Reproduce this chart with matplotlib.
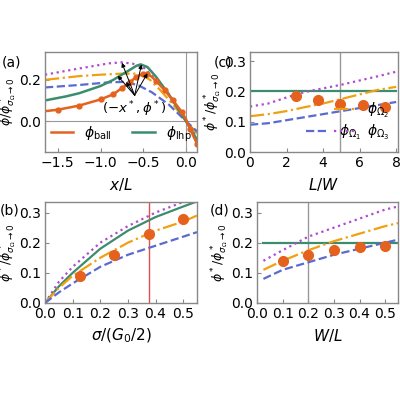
import matplotlib
matplotlib.use('Agg')
import matplotlib.pyplot as plt

plt.rcParams['font.family'] = ['DejaVu Sans']
plt.rcParams['font.size'] = 10
plt.rcParams['mathtext.fontset'] = 'dejavusans'

C_BALL = '#e5621e'
C_LHP = '#3c8c6e'
C_O2 = '#f0a010'
C_O1 = '#5a6ad0'
C_O3 = '#b04ad0'

# panel (a)
a_ball_x = [-1.65, -1.5, -1.25, -1.0, -0.85, -0.75, -0.65, -0.58, -0.5, -0.45, -0.4, -0.35, -0.25, -0.15, -0.05, 0.0, 0.05, 0.13]
a_ball_y = [0.048, 0.055, 0.075, 0.105, 0.13, 0.16, 0.19, 0.215, 0.23, 0.228, 0.215, 0.195, 0.15, 0.1, 0.045, 0.01, -0.04, -0.11]
a_mark_x = [-1.5, -1.25, -1.0, -0.85, -0.75, -0.65, -0.58, -0.5, -0.45, -0.35, -0.25, -0.15, -0.05, 0.05, 0.13]
a_lhp_x = [-1.65, -1.4, -1.25, -1.0, -0.85, -0.75, -0.65, -0.58, -0.53, -0.45, -0.35, -0.2, 0.0, 0.13]
a_lhp_y = [0.1, 0.12, 0.135, 0.17, 0.2, 0.225, 0.25, 0.268, 0.275, 0.262, 0.215, 0.13, 0.0, -0.09]
a_o2_x = [-1.65, -1.25, -1.0, -0.75, -0.6, -0.5, -0.42, -0.3, -0.15, 0.0, 0.13]
a_o2_y = [0.2, 0.218, 0.225, 0.23, 0.23, 0.22, 0.2, 0.15, 0.08, 0.0, -0.06]
a_o1_x = [-1.65, -1.25, -0.9, -0.7, -0.55, -0.4, -0.2, 0.0, 0.13]
a_o1_y = [0.163, 0.175, 0.188, 0.19, 0.172, 0.14, 0.08, 0.0, -0.05]
a_o3_x = [-1.65, -1.25, -0.9, -0.75, -0.62, -0.5, -0.35, -0.2, 0.0, 0.13]
a_o3_y = [0.225, 0.255, 0.28, 0.285, 0.278, 0.262, 0.2, 0.13, 0.0, -0.08]
a_peaks_x = [-0.75, -0.8, -0.7, -0.52, -0.45]
a_peaks_y = [0.283, 0.22, 0.19, 0.275, 0.232]

# panel (c)
c_x = [0, 1, 2, 3, 4, 5, 6, 7, 8]
c_o3 = [0.15, 0.16, 0.18, 0.198, 0.21, 0.222, 0.236, 0.25, 0.265]
c_o2 = [0.118, 0.125, 0.135, 0.148, 0.16, 0.175, 0.19, 0.205, 0.215]
c_o1 = [0.09, 0.095, 0.105, 0.115, 0.125, 0.135, 0.145, 0.155, 0.165]
c_lhp = [0.2] * 9
c_pts_x = [2.5, 3.7, 4.9, 6.2, 7.4]
c_pts_y = [0.185, 0.17, 0.16, 0.155, 0.15]

# panel (b)
b_x = [0.0, 0.05, 0.1, 0.2, 0.3, 0.4, 0.5, 0.55]
b_o3 = [0.0, 0.07, 0.12, 0.2, 0.255, 0.3, 0.335, 0.35]
b_lhp = [0.0, 0.055, 0.1, 0.18, 0.24, 0.285, 0.32, 0.337]
b_o2 = [0.0, 0.05, 0.09, 0.15, 0.2, 0.24, 0.27, 0.29]
b_o1 = [0.0, 0.035, 0.065, 0.12, 0.16, 0.19, 0.22, 0.235]
b_pts_x = [0.125, 0.25, 0.375, 0.5]
b_pts_y = [0.09, 0.16, 0.23, 0.28]

# panel (d)
d_x = [0.025, 0.1, 0.2, 0.3, 0.4, 0.5, 0.55]
d_o3 = [0.14, 0.175, 0.22, 0.25, 0.28, 0.31, 0.32]
d_o2 = [0.11, 0.14, 0.175, 0.205, 0.23, 0.255, 0.265]
d_o1 = [0.08, 0.11, 0.135, 0.16, 0.18, 0.2, 0.21]
d_lhp = [0.2] * 7
d_pts_x = [0.1, 0.2, 0.3, 0.4, 0.5]
d_pts_y = [0.14, 0.16, 0.175, 0.185, 0.19]

fig = plt.figure(figsize=(4, 4), dpi=100)
W, H = 400, 400


def box(l, t, r, b):
    return fig.add_axes([l / W, 1 - b / H, (r - l) / W, (b - t) / H])


def style(ax):
    for s in ax.spines.values():
        s.set_color('#888888')
        s.set_linewidth(1.0)
    ax.tick_params(direction='in', length=3, color='#888888', labelsize=10, pad=3)


ylab_star = r'$\phi^*/\phi^*_{\sigma_\Omega\to 0}$'
lw = 1.6
ylfs = 9

# (a)
ax = box(45, 52, 197, 152)
style(ax)
ax.axhline(0, color='#999999', lw=0.8)
ax.axvline(0, color='#999999', lw=0.8)
ax.plot(a_o3_x, a_o3_y, ':', color=C_O3, lw=lw)
ax.plot(a_o2_x, a_o2_y, '-.', color=C_O2, lw=lw)
ax.plot(a_o1_x, a_o1_y, '--', color=C_O1, lw=lw)
ax.plot(a_lhp_x, a_lhp_y, '-', color=C_LHP, lw=1.8, label=r'$\phi_{\mathrm{lhp}}$')
ax.plot(a_ball_x, a_ball_y, '-', color=C_BALL, lw=1.8, label=r'$\phi_{\mathrm{ball}}$')
mk_y = [a_ball_y[a_ball_x.index(v)] for v in a_mark_x]
ax.plot(a_mark_x, mk_y, 'o', color=C_BALL, ms=3.5)
for px, py in zip(a_peaks_x, a_peaks_y):
    ax.annotate('', xy=(px, py), xytext=(-0.6, 0.125),
                arrowprops=dict(arrowstyle='-|>', color='black', lw=0.7, mutation_scale=6,
                                shrinkA=0, shrinkB=0))
ax.text(-0.6, 0.06, r'$(-x^*,\phi^*)$', ha='center', va='center', fontsize=9.5)
h, l = ax.get_legend_handles_labels()
ax.legend(h[::-1], l[::-1], loc='lower center', ncol=2, frameon=False, fontsize=10,
          handlelength=1.6, columnspacing=1.5, borderpad=0.1, bbox_to_anchor=(0.5, 0.0))
ax.set_xlim(-1.65, 0.13)
ax.set_ylim(-0.15, 0.335)
ax.set_xticks([-1.5, -1.0, -0.5, 0.0])
ax.set_yticks([0.0, 0.2])
ax.set_xlabel(r'$x/L$', fontsize=11)
ax.set_ylabel(r'$\phi/\phi^*_{\sigma_\Omega\to 0}$', fontsize=ylfs, labelpad=0)
fig.text(2 / W, 1 - 62 / H, '(a)', fontsize=10, va='center')

# (c)
ax = box(250, 52, 398, 152)
style(ax)
ax.axvline(4.9, color='#999999', lw=1.0)
ax.plot(c_x, c_lhp, '-', color=C_LHP, lw=lw)
l3, = ax.plot(c_x, c_o3, ':', color=C_O3, lw=lw)
l2, = ax.plot(c_x, c_o2, '-.', color=C_O2, lw=lw)
l1, = ax.plot(c_x, c_o1, '--', color=C_O1, lw=lw)
ax.plot(c_pts_x, c_pts_y, 'o', color=C_BALL, ms=7)
ax.legend([l1], [r'$\phi_{\Omega_1}$'], loc='lower left', frameon=False, fontsize=10,
          handlelength=1.6, borderpad=0.1, bbox_to_anchor=(0.32, 0.02))
ax2 = ax.twinx()
ax2.set_axis_off()
ax2.legend([l2, l3], [r'$\phi_{\Omega_2}$', r'$\phi_{\Omega_3}$'], loc='lower right',
           frameon=False, fontsize=10, handlelength=1.6, borderpad=0.1, labelspacing=0.2,
           bbox_to_anchor=(1.0, 0.02))
ax.set_xlim(0, 8.1)
ax.set_ylim(0, 0.33)
ax.set_xticks([0, 2, 4, 6, 8])
ax.set_yticks([0.0, 0.1, 0.2, 0.3])
ax.set_xlabel(r'$L/W$', fontsize=11)
ax.set_ylabel(ylab_star, fontsize=ylfs, labelpad=0)
fig.text(214 / W, 1 - 62 / H, '(c)', fontsize=10, va='center')

# (b)
ax = box(45, 202, 197, 303)
style(ax)
ax.axvline(0.375, color='#e05050', lw=1.0)
ax.plot(b_x, b_o3, ':', color=C_O3, lw=lw)
ax.plot(b_x, b_lhp, '-', color=C_LHP, lw=lw)
ax.plot(b_x, b_o2, '-.', color=C_O2, lw=lw)
ax.plot(b_x, b_o1, '--', color=C_O1, lw=lw)
ax.plot(b_pts_x, b_pts_y, 'o', color=C_BALL, ms=7)
ax.set_xlim(0, 0.55)
ax.set_ylim(0, 0.335)
ax.set_xticks([0.0, 0.1, 0.2, 0.3, 0.4, 0.5])
ax.set_yticks([0.0, 0.1, 0.2, 0.3])
ax.set_xlabel(r'$\sigma/(G_0/2)$', fontsize=11)
ax.set_ylabel(ylab_star, fontsize=ylfs, labelpad=0)
fig.text(0 / W, 1 - 210 / H, '(b)', fontsize=10, va='center')

# (d)
ax = box(257, 202, 398, 303)
style(ax)
ax.axvline(0.2, color='#999999', lw=1.0)
ax.plot(d_x, d_lhp, '-', color=C_LHP, lw=lw)
ax.plot(d_x, d_o3, ':', color=C_O3, lw=lw)
ax.plot(d_x, d_o2, '-.', color=C_O2, lw=lw)
ax.plot(d_x, d_o1, '--', color=C_O1, lw=lw)
ax.plot(d_pts_x, d_pts_y, 'o', color=C_BALL, ms=7)
ax.set_xlim(0.012, 0.55)
ax.set_ylim(0, 0.335)
ax.set_xticks([0.0, 0.1, 0.2, 0.3, 0.4, 0.5])
ax.set_yticks([0.0, 0.1, 0.2, 0.3])
ax.set_xlabel(r'$W/L$', fontsize=11)
ax.set_ylabel(ylab_star, fontsize=ylfs, labelpad=0)
fig.text(210 / W, 1 - 210 / H, '(d)', fontsize=10, va='center')

fig.savefig('out.png', dpi=100)
